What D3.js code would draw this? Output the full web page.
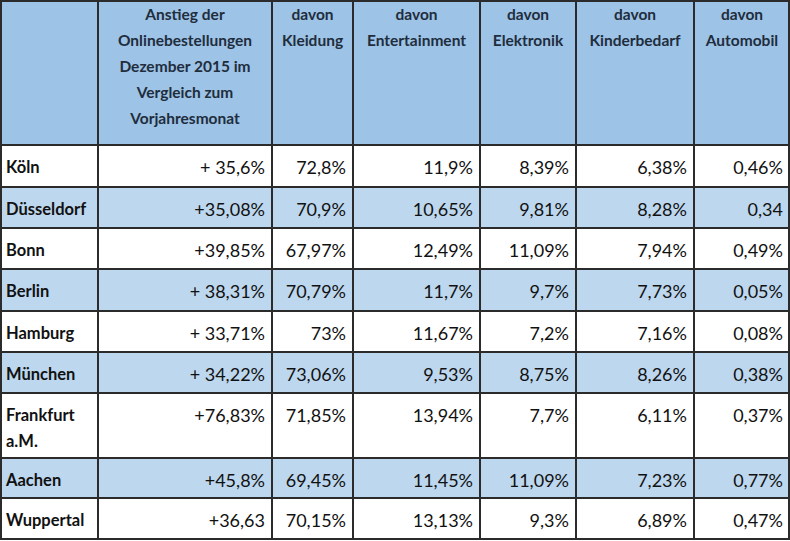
<!DOCTYPE html>
<html><head><meta charset="utf-8">
<script src="https://cdn.jsdelivr.net/npm/d3@7"></script>
<style>body{margin:0;background:#fff}text{font-family:Lato,"Open Sans",sans-serif}</style>
</head><body><svg></svg>
<script>
let headers = [
  [''],
  ['Anstieg der', 'Onlinebestellungen', 'Dezember 2015 im', 'Vergleich zum', 'Vorjahresmonat'],
  ['davon', 'Kleidung'], ['davon', 'Entertainment'], ['davon', 'Elektronik'],
  ['davon', 'Kinderbedarf'], ['davon', 'Automobil']
];
let cities = [['Köln'], ['Düsseldorf'], ['Bonn'], ['Berlin'], ['Hamburg'], ['München'], ['Frankfurt', 'a.M.'], ['Aachen'], ['Wuppertal']];
let anstieg = ['+ 35,6%', '+35,08%', '+39,85%', '+ 38,31%', '+ 33,71%', '+ 34,22%', '+76,83%', '+45,8%', '+36,63'];
let kleidung = ['72,8%', '70,9%', '67,97%', '70,79%', '73%', '73,06%', '71,85%', '69,45%', '70,15%'];
let entertainment = ['11,9%', '10,65%', '12,49%', '11,7%', '11,67%', '9,53%', '13,94%', '11,45%', '13,13%'];
let elektronik = ['8,39%', '9,81%', '11,09%', '9,7%', '7,2%', '8,75%', '7,7%', '11,09%', '9,3%'];
let kinder = ['6,38%', '8,28%', '7,94%', '7,73%', '7,16%', '8,26%', '6,11%', '7,23%', '6,89%'];
let auto = ['0,46%', '0,34', '0,49%', '0,05%', '0,08%', '0,38%', '0,37%', '0,77%', '0,47%'];

let width = 790, height = 541;
let colEdges = [0, 98, 272, 353, 480, 576, 694, 790];
let rowEdges = [0, 145, 187, 228, 269, 311, 352, 393, 458, 498, 539];

let svg = d3.select('svg').attr('width', width).attr('height', height);
let columns = [cities.map(c => c), anstieg, kleidung, entertainment, elektronik, kinder, auto];

// header
svg.append('rect').attr('x', 0).attr('y', 0).attr('width', width).attr('height', rowEdges[1]).attr('fill', '#9dc3e6');
headers.forEach((lines, c) => {
  let cx = (colEdges[c] + colEdges[c + 1]) / 2;
  let y0 = 20;
  lines.forEach((l, i) => {
    svg.append('text').attr('x', cx).attr('y', y0 + i * 26).attr('text-anchor', 'middle')
      .attr('font-size', 15.5).attr('font-weight', 'bold').attr('fill', '#1f2d3d').text(l);
  });
});

// body rows
cities.forEach((city, r) => {
  let y = rowEdges[r + 1], h = rowEdges[r + 2] - y;
  svg.append('rect').attr('x', 0).attr('y', y).attr('width', width).attr('height', h)
    .attr('fill', r % 2 ? '#bdd7ee' : '#ffffff');
  columns.forEach((col, c) => {
    if (c === 0) {
      city.forEach((l, i) => svg.append('text').attr('x', 6).attr('y', y + 28 + i * 26)
        .attr('font-size', 16.5).attr('font-weight', 'bold').attr('fill', '#111').text(l));
    } else {
      svg.append('text').attr('x', colEdges[c + 1] - 7).attr('y', y + 29).attr('text-anchor', 'end')
        .attr('font-size', 18).attr('fill', '#111').text(col[r]);
    }
  });
});

// grid
let g = svg.append('g').attr('stroke', '#2b2b2b').attr('stroke-width', 2);
colEdges.forEach(x => g.append('line').attr('x1', Math.min(Math.max(x, 1), 789)).attr('x2', Math.min(Math.max(x, 1), 789)).attr('y1', 0).attr('y2', 540));
rowEdges.forEach(y => g.append('line').attr('x1', 0).attr('x2', width).attr('y1', Math.max(y, 1)).attr('y2', Math.max(y, 1)));
</script></body></html>
